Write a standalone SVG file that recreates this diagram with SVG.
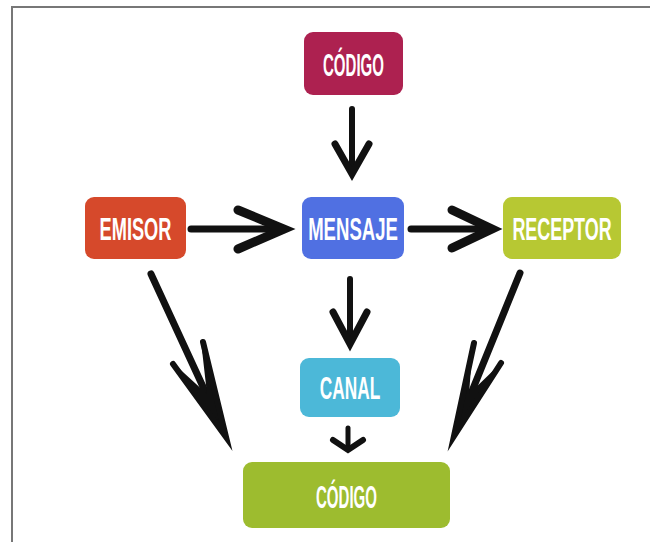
<svg xmlns="http://www.w3.org/2000/svg" width="650" height="542" viewBox="0 0 650 542">
<style>
.box{stroke:none}
.lbl{font-family:"Liberation Sans","DejaVu Sans",sans-serif;font-weight:bold;font-size:32px;fill:#ffffff;text-anchor:middle}
.stem{stroke:#111;stroke-linecap:round;fill:none}
.head{stroke:#111;fill:none;stroke-linejoin:miter;stroke-miterlimit:10;stroke-linecap:round}
</style>
<rect x="0" y="0" width="650" height="542" fill="#ffffff"/>
<path d="M12,542 V7 H650" fill="none" stroke="#777" stroke-width="2"/>
<g id="codigo-top">
<rect class="box" x="304" y="32" width="99" height="63" rx="9" fill="#ad2150"/>
<text class="lbl" transform="translate(353.5,76) scale(0.47,1)">CÓDIGO</text>
</g>
<g id="emisor">
<rect class="box" x="85" y="197" width="101" height="62" rx="9" fill="#d6492b"/>
<text class="lbl" transform="translate(135.5,240) scale(0.57,1)">EMISOR</text>
</g>
<g id="mensaje">
<rect class="box" x="302" y="197" width="102" height="62" rx="9" fill="#5070e2"/>
<text class="lbl" transform="translate(353,240) scale(0.58,1)">MENSAJE</text>
</g>
<g id="receptor">
<rect class="box" x="503" y="197" width="118" height="62" rx="9" fill="#b7c833"/>
<text class="lbl" transform="translate(562,240) scale(0.56,1)">RECEPTOR</text>
</g>
<g id="canal">
<rect class="box" x="300" y="358" width="100" height="59" rx="9" fill="#4cb8d8"/>
<text class="lbl" transform="translate(350,399) scale(0.54,1)">CANAL</text>
</g>
<g id="codigo-bottom">
<rect class="box" x="243" y="462" width="207" height="66" rx="9" fill="#9dbc2f"/>
<text class="lbl" transform="translate(346.5,508) scale(0.47,1)" fill="#fbfbd8">CÓDIGO</text>
</g>
<g id="connectors">
<line class="stem" x1="352" y1="109" x2="352" y2="172" stroke-width="6"/>
<polyline class="head" points="335,144 352,174 369,144" stroke-width="7"/>
<line class="stem" x1="191" y1="229" x2="282" y2="229" stroke-width="7"/>
<polyline class="head" points="238,210 284,229 238,249" stroke-width="9"/>
<line class="stem" x1="411" y1="229" x2="490" y2="229" stroke-width="7"/>
<polyline class="head" points="452,210 492,229 452,248" stroke-width="9"/>
<line class="stem" x1="350" y1="279" x2="350" y2="343" stroke-width="6"/>
<polyline class="head" points="333,312 350,344 367,312" stroke-width="7"/>
<line class="stem" x1="348" y1="428" x2="348" y2="448" stroke-width="5"/>
<polyline class="head" points="333,440 348,450 363,440" stroke-width="6"/>
<line class="stem" x1="151" y1="274" x2="222" y2="428" stroke-width="7"/>
<path d="M227,438 L172,362 L207,394 L201,341 Z" fill="#111"/>
<polyline class="head" points="173,364 226,437 203,342" stroke-width="6"/>
<line class="stem" x1="520" y1="273" x2="457" y2="428" stroke-width="7"/>
<path d="M453,437 L473,342 L469,394 L502,362 Z" fill="#111"/>
<polyline class="head" points="474,343 454,436 501,363" stroke-width="6"/>
</g>
</svg>
